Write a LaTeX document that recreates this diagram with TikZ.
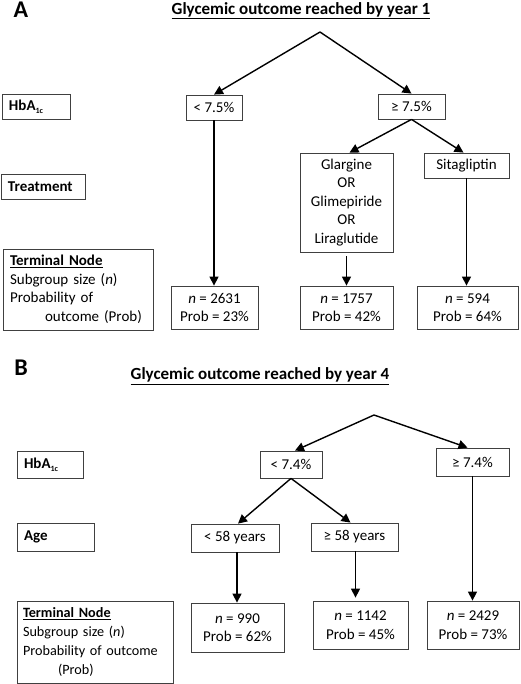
\documentclass[tikz,border=0pt]{standalone}
\usepackage{fontspec}
\setmainfont{Carlito}
\usetikzlibrary{arrows.meta}
\newcommand{\hbsub}{\textbf{HbA\raisebox{-3pt}{\fontsize{8}{8}\selectfont 1c}}}

\begin{document}
\begin{tikzpicture}[x=1pt, y=-1pt,
        box/.style={draw=black!75, line width=0.8pt, inner sep=0pt, align=center, font=\fontsize{15}{18.5}\selectfont},
        lbl/.style={box, inner xsep=7pt, align=left},
        tag/.style={font=\fontsize{24}{24}\selectfont\bfseries},
        title/.style={font=\fontsize{17}{19}\selectfont\bfseries},
        arr/.style={-{Triangle[length=9pt,width=9pt]}, line width=1.4pt}]
        \useasboundingbox (0,0) rectangle (520,684);
        % A
        \node[tag] (tagA) at (21,10) {A};
        \node[title] (titleA) at (301,11) {\underline{Glycemic outcome reached by year 1}};
        \coordinate (rootA) at (320,32);
        \node[lbl, text width=54, minimum height=25] (hbA) at (36,106.5) {\hbsub};
        \node[box, minimum width=56, minimum height=25] (lt75) at (214,107.5) {< 7.5\%};
        \node[box, minimum width=67, minimum height=25] (ge75) at (411.5,106.5) {≥ 7.5\%};
        \node[lbl, text width=70, minimum height=25] (trtA) at (43,186.5) {\textbf{Treatment}};
        \node[box, minimum width=93, minimum height=99] (glar) at (346.5,202.5) {Glargine\\OR\\Glimepiride\\OR\\Liraglutide};
        \node[box, minimum width=85, minimum height=25] (sita) at (466.5,165.5) {Sitagliptin};
        \node[lbl, text width=136, minimum height=81] (termA) at (78,289.5)
          {\textbf{\underline{Terminal Node}}\\Subgroup size (\textit{n})\\Probability of\\\hspace*{35pt}outcome (Prob)};
        \node[box, minimum width=87, minimum height=43] (nA1) at (214.5,307.5) {\textit{n} = 2631\\Prob = 23\%};
        \node[box, minimum width=93, minimum height=43] (nA2) at (346.5,307.5) {\textit{n} = 1757\\Prob = 42\%};
        \node[box, minimum width=101, minimum height=43] (nA3) at (467.5,307.5) {\textit{n} = 594\\Prob = 64\%};
        \draw[arr] (rootA) -- (lt75.north);
        \draw[arr] (rootA) -- (ge75.north);
        \draw[arr] (ge75.south) -- ([xshift=3pt]glar.north);
        \draw[arr] (ge75.south) -- ([xshift=-3pt]sita.north);
        \draw[arr] (lt75.south) -- (lt75.south |- nA1.north);
        \draw[arr] ([yshift=-4pt]glar.south) -- (nA2.north);
        \draw[arr] (sita.south) -- (sita.south |- nA3.north);
        % B
        \node[tag] (tagB) at (21,368) {B};
        \node[title] (titleB) at (260,376) {\underline{Glycemic outcome reached by year 4}};
        \coordinate (rootB) at (374,415);
        \node[lbl, text width=52, minimum height=27] (hbB) at (50,464.5) {\hbsub};
        \node[box, minimum width=62, minimum height=27] (lt74) at (291,464.5) {< 7.4\%};
        \node[box, minimum width=73, minimum height=28] (ge74) at (472.5,462) {≥ 7.4\%};
        \node[lbl, text width=63, minimum height=28] (ageB) at (55.5,537) {\textbf{Age}};
        \node[box, minimum width=88, minimum height=28] (lt58) at (235,538) {< 58 years};
        \node[box, minimum width=87, minimum height=28] (ge58) at (354.5,537) {≥ 58 years};
        \node[lbl, inner xsep=6pt, text width=144, minimum height=82, font=\fontsize{14.2}{19}\selectfont] (termB) at (95,642)
          {\textbf{\underline{Terminal Node}}\\Subgroup size (\textit{n})\\\mbox{Probability of outcome}\\\hspace*{35pt}(Prob)};
        \node[box, minimum width=93, minimum height=49] (nB1) at (237.5,627.5) {\textit{n} = 990\\Prob = 62\%};
        \node[box, minimum width=95, minimum height=48] (nB2) at (360.5,625) {\textit{n} = 1142\\Prob = 45\%};
        \node[box, minimum width=92, minimum height=48] (nB3) at (473,625) {\textit{n} = 2429\\Prob = 73\%};
        \draw[arr] (rootB) -- ([xshift=4pt]lt74.north);
        \draw[arr] (rootB) -- ([xshift=-5pt]ge74.north);
        \draw[arr] (lt74.south) -- ([xshift=3pt]lt58.north);
        \draw[arr] (lt74.south) -- ([xshift=-4pt]ge58.north);
        \draw[arr] ([xshift=2pt]lt58.south) -- ([xshift=2pt]lt58.south |- nB1.north);
        \draw[arr] ([xshift=1pt]ge58.south) -- ([xshift=1pt,yshift=3pt]ge58.south |- nB2.north);
        \draw[arr] (ge74.south) -- (ge74.south |- nB3.north);
\end{tikzpicture}
\end{document}
